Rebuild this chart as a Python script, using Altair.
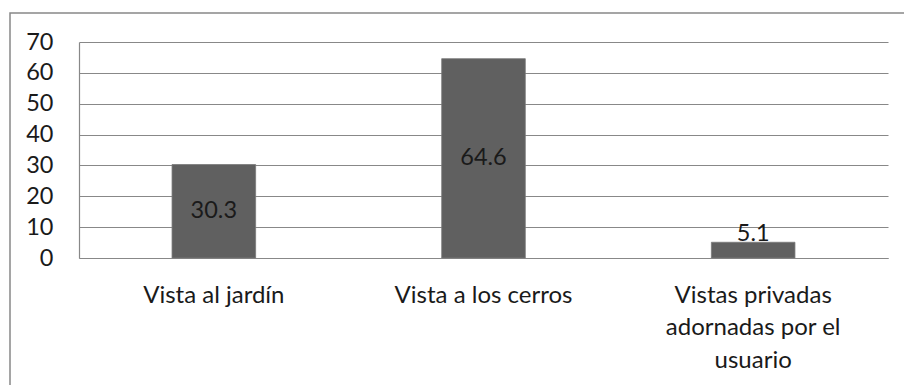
import altair as alt
import pandas as pd

categories = ["Vista al jardín", "Vista a los cerros", "Vistas privadas adornadas por el usuario"]
values = [30.3, 64.6, 5.1]
y_ticks = [0, 10, 20, 30, 40, 50, 60, 70]

df = pd.DataFrame({"categoria": categories, "valor": values})
df["label"] = df["valor"].map(lambda v: f"{v:.1f}")
df["mid"] = df["valor"] / 2

FONT = "Lato"
GRAY = "#888888"
TEXT = "#1a1a1a"
W, H = 809, 216

x_axis = alt.Axis(
    title=None,
    labelAngle=0,
    labelFont=FONT,
    labelFontSize=24,
    labelColor=TEXT,
    labelPadding=25,
    labelLineHeight=32.5,
    labelLimit=400,
    labelBaseline="top",
    labelOverlap=False,
    labelExpr="datum.label == 'Vistas privadas adornadas por el usuario' ? "
              "['Vistas privadas', 'adornadas por el', 'usuario'] : datum.label",
    ticks=False,
    domainColor=GRAY,
    domainWidth=1.2,
)
x_scale = alt.Scale(paddingInner=0.69, paddingOuter=0.345)

y_axis = alt.Axis(
    title=None,
    values=y_ticks,
    labelFont=FONT,
    labelFontSize=23.5,
    labelColor=TEXT,
    labelPadding=26,
    labelOverlap=False,
    labelFlush=False,
    ticks=False,
    grid=True,
    gridColor=GRAY,
    gridWidth=1.2,
    domainColor=GRAY,
    domainWidth=1.2,
)
y_scale = alt.Scale(domain=[0, 70], nice=False)


def x_enc():
    return alt.X("categoria:N", sort=categories, scale=x_scale, axis=x_axis)


def y_enc(field):
    return alt.Y(f"{field}:Q", scale=y_scale, axis=y_axis)


bars = alt.Chart(df).mark_bar(color="#606060", stroke="#7a7a7a", strokeWidth=0.8).encode(
    x=x_enc(),
    y=y_enc("valor"),
)

inside = alt.Chart(df).transform_filter("datum.valor >= 10").mark_text(
    font=FONT, fontSize=23.5, color=TEXT, baseline="middle", align="center"
).encode(
    x=x_enc(),
    y=y_enc("mid"),
    text="label:N",
)

above = alt.Chart(df).transform_filter("datum.valor < 10").mark_text(
    font=FONT, fontSize=23.5, color=TEXT, baseline="alphabetic", align="center", dy=-1
).encode(
    x=x_enc(),
    y=y_enc("valor"),
    text="label:N",
)

# outer frame of the chart area
frame = alt.Chart(pd.DataFrame({"k": [0]})).mark_rect(
    fill=None, stroke=GRAY, strokeWidth=1.5, clip=False
).encode(
    x=alt.value(-69), x2=alt.value(W + 30),
    y=alt.value(-29), y2=alt.value(H + 140),
)

chart = alt.layer(frame, bars, inside, above).properties(
    width=W,
    height=H,
    autosize=alt.AutoSizeParams(type="none"),
    padding={"left": 79, "top": 42, "right": 16, "bottom": 127},
    background="white",
).configure_view(stroke=None)

chart.save("out.html", embed_options={"renderer": "svg", "actions": False})
